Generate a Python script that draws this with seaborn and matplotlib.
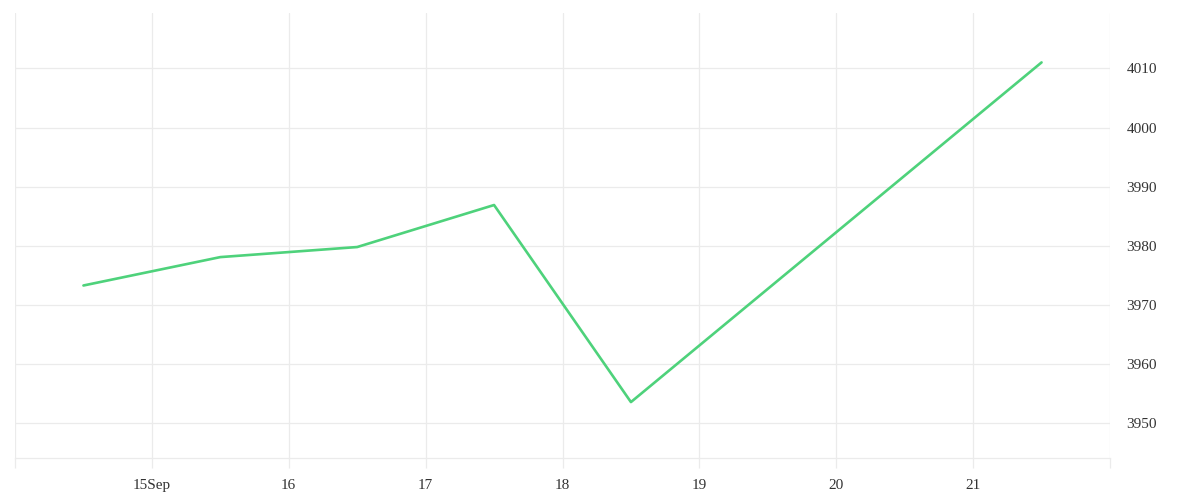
import pandas as pd
import matplotlib
matplotlib.use("Agg")
import matplotlib.pyplot as plt
import matplotlib.dates as mdates
import seaborn as sns

# values (noon of each day)
dates = ["2023-09-14 12:00", "2023-09-15 12:00", "2023-09-16 12:00",
         "2023-09-17 12:00", "2023-09-18 12:00", "2023-09-21 12:00"]
values = [3973.3, 3978.1, 3979.8, 3986.9, 3953.6, 4011.0]
tick_days = ["2023-09-14", "2023-09-15", "2023-09-16", "2023-09-17", "2023-09-18",
             "2023-09-19", "2023-09-20", "2023-09-21", "2023-09-22"]
tick_labels = ["", "15Sep", "16", "17", "18", "19", "20", "21", ""]
y_ticks = [3950, 3960, 3970, 3980, 3990, 4000, 4010]

df = pd.DataFrame({"date": pd.to_datetime(dates), "value": values})

sns.set_theme(style="white")
plt.rcParams["font.family"] = ["Liberation Serif", "DejaVu Serif"]
grid_col = "#ebebeb"

fig = plt.figure(figsize=(12, 5), dpi=100)
ax = fig.add_axes([0.0125, 0.0834, 0.9125, 0.8912])

sns.lineplot(data=df, x="date", y="value", ax=ax, color="#4ed27b", linewidth=1.9)

ax.set_xlim(pd.Timestamp("2023-09-14"), pd.Timestamp("2023-09-22"))
ax.set_ylim(3944.1, 4019.4)

ax.set_xticks(mdates.date2num(pd.to_datetime(tick_days)))
ax.set_xticklabels(tick_labels)
ax.set_yticks(y_ticks)
ax.yaxis.tick_right()

ax.grid(True, color=grid_col, linewidth=0.9)
ax.tick_params(axis="x", length=7, width=0.9, color=grid_col, pad=8,
               labelsize=11, labelcolor="#333333", bottom=True)
ax.tick_params(axis="y", length=0, pad=12, labelsize=11, labelcolor="#333333",
               right=True, left=False)

for side in ["top", "left", "right"]:
    ax.spines[side].set_visible(False)
ax.spines["bottom"].set_color(grid_col)
ax.spines["bottom"].set_linewidth(0.9)

ax.set_xlabel("")
ax.set_ylabel("")

fig.savefig("out.png", dpi=100)
